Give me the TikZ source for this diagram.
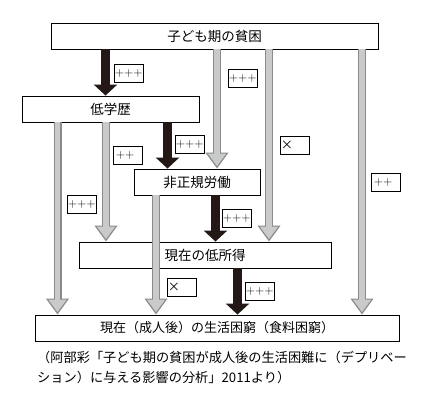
\documentclass[tikz,border=0pt]{standalone}
\usepackage{fontspec}
\newfontfamily\jp{Noto Sans CJK JP}
\usepackage{tikz}
\usetikzlibrary{arrows.meta}

\definecolor{inkblack}{HTML}{231815}
\definecolor{pathfill}{HTML}{C9CACA}
\definecolor{pathline}{HTML}{8A8A8A}

\begin{document}
\begin{tikzpicture}[x=1pt,y=-1pt,
  stage/.style={draw,line width=0.9pt,minimum height=26pt,inner sep=0pt,
    font=\jp\fontsize{13.5}{16}\selectfont},
  rate/.style={draw,line width=0.8pt,anchor=north west,minimum height=18pt,
    text width=28pt,inner xsep=0.4pt,inner ysep=1pt,align=left,
    font=\fontsize{12.2}{14}\selectfont},
  direct/.style={draw=inkblack,line width=9pt,-{Triangle[width=23pt,length=11pt]}},
  sideback/.style={draw=pathline,line width=8pt,-{Triangle[width=22pt,length=16pt]}},
  sidefront/.style={draw=pathfill,line width=5.4pt,shorten >=2.4pt,
    -{Triangle[width=17.5pt,length=12.5pt]}}]
  \useasboundingbox (0,0) rectangle (436,404);
  % stages
  \node[stage,minimum width=327pt] (pov) at (214.5,36) {子ども期の貧困};
  \node[stage,minimum width=177pt] (edu) at (110.5,109) {低学歴};
  \node[stage,minimum width=126pt] (irr) at (197,182) {非正規労働};
  \node[stage,minimum width=252pt] (inc) at (205,255) {現在の低所得};
  \node[stage,minimum width=364pt,font=\jp\fontsize{13}{16}\selectfont] (life)
    at (217,328) {現在（成人後）の生活困窮（食料困窮）};
  % indirect paths
  \foreach \from/\to/\x in {pov/irr/217,pov/inc/269,pov/life/362,
      edu/life/57.5,edu/inc/106,irr/life/156} {
    \draw[sideback] (\from.south -| \x,0) -- (\to.north -| \x,0);
    \draw[sidefront] (\from.south -| \x,0) -- (\to.north -| \x,0);
  }
  % direct chain
  \draw[direct] (pov.south -| 105.5,0) -- (edu.north -| 105.5,0);
  \draw[direct] (edu.south -| 167.5,0) -- (irr.north -| 167.5,0);
  \draw[direct] (irr.south -| 215.5,0) -- (inc.north -| 215.5,0);
  \draw[direct] (inc.south -| 237.5,0) -- (life.north -| 237.5,0);
  % significance
  \node[rate] (r1) at (114,64) {+++};
  \node[rate] (r2) at (228,69) {+++};
  \node[rate] (r3) at (280,136) {\jp ×};
  \node[rate] (r4) at (113,146) {\,++};
  \node[rate] (r5) at (175,135) {+++};
  \node[rate] (r6) at (67,195) {+++};
  \node[rate] (r7) at (371,173) {\,++};
  \node[rate] (r8) at (222,209) {+++};
  \node[rate] (r9) at (167,278) {\jp ×};
  \node[rate] (r10) at (245,282) {+++};
  % source
  \node[anchor=north west,align=left,inner sep=0pt,
    font=\jp\fontsize{13.2}{20}\selectfont] (src) at (37,351)
    {（阿部彩「子ども期の貧困が成人後の生活困難に（デプリベー\\
     ション）に与える影響の分析」2011より）};
\end{tikzpicture}
\end{document}
